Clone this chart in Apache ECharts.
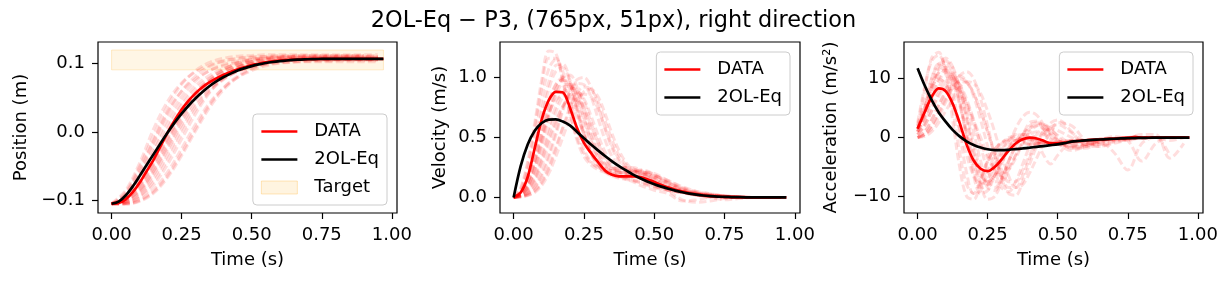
<!DOCTYPE html>
<html><head><meta charset="utf-8">
<script src="https://cdn.jsdelivr.net/npm/echarts@6/dist/echarts.min.js"></script>
<style>html,body{margin:0;padding:0;background:#fff}#c{width:1227px;height:286px}</style>
</head><body><div id="c"></div>
<script>
// ---------- data ----------
const tMain = [0,0.025,0.05,0.075,0.1,0.125,0.15,0.175,0.2,0.225,0.25,0.275,0.3,0.325,0.35,0.375,0.4,0.425,0.45,0.475,0.5,0.525,0.55,0.575,0.6,0.625,0.65,0.675,0.7,0.725,0.75,0.775,0.8,0.825,0.85,0.875,0.9,0.925,0.95,0.97];

const posData = [-0.1045,-0.1035,-0.098,-0.088,-0.074,-0.057,-0.040,-0.020,-0.0005,0.017,0.033,0.046,0.057,0.066,0.073,0.079,0.084,0.088,0.092,0.095,0.098,0.100,0.102,0.1035,0.1045,0.1053,0.106,0.1064,0.1067,0.1069,0.107,0.1071,0.1072,0.1072,0.1072,0.1072,0.1072,0.1072,0.1072,0.1072];
const posModel = [-0.1045,-0.1015,-0.0925,-0.0795,-0.064,-0.048,-0.032,-0.016,-0.0005,0.014,0.027,0.039,0.0495,0.059,0.0675,0.0745,0.0805,0.0855,0.090,0.0935,0.0965,0.099,0.101,0.1025,0.1037,0.1047,0.1055,0.1061,0.1065,0.1068,0.107,0.1071,0.1072,0.1072,0.1072,0.1072,0.1072,0.1072,0.1072,0.1072];

const velData = [0,0.04,0.17,0.41,0.65,0.81,0.88,0.875,0.75,0.58,0.455,0.37,0.295,0.225,0.188,0.176,0.175,0.175,0.17,0.152,0.128,0.104,0.083,0.064,0.048,0.035,0.025,0.017,0.011,0.007,0.005,0.003,0.002,0.001,0.001,0,0,0,0,0];
const velModel = [0,0.26,0.44,0.555,0.62,0.648,0.65,0.632,0.60,0.548,0.493,0.44,0.392,0.345,0.30,0.26,0.225,0.19,0.16,0.133,0.11,0.09,0.072,0.056,0.043,0.032,0.023,0.016,0.011,0.007,0.005,0.003,0.002,0.001,0.001,0,0,0,0,0];

const accData = [1.5,4.3,6.9,8.35,7.9,5.8,2.5,-1.2,-3.9,-5.3,-5.7,-5.0,-3.7,-2.2,-1.0,-0.3,0.0,-0.15,-0.55,-1.0,-1.0,-0.85,-0.7,-0.58,-0.48,-0.4,-0.33,-0.26,-0.2,-0.15,-0.1,0.1,-0.05,-0.03,-0.02,-0.01,0.05,0,0.05,0];
const accModel = [11.8,8.9,6.4,4.3,2.7,1.3,0.2,-0.65,-1.25,-1.7,-1.98,-2.12,-2.15,-2.08,-1.97,-1.85,-1.72,-1.58,-1.44,-1.3,-1.15,-0.95,-0.7,-0.58,-0.48,-0.4,-0.33,-0.26,-0.2,-0.15,-0.11,-0.08,-0.05,-0.03,-0.02,-0.01,0,0,0,0];

const tTrialPos = [0,0.05,0.1,0.15,0.2,0.25,0.3,0.35,0.4,0.45,0.5,0.55,0.6,0.65,0.7,0.75,0.8,0.85,0.9,0.95];
const posTrials = [
 [-0.104,-0.085,-0.045,0.005,0.045,0.072,0.088,0.098,0.104,0.107,0.109,0.110,0.110,0.110,0.110,0.110,0.110,0.110,0.110,0.110],
 [-0.105,-0.092,-0.058,-0.015,0.028,0.060,0.082,0.096,0.104,0.108,0.110,0.111,0.112,0.112,0.112,0.112,0.112,0.112,0.112,0.112],
 [-0.105,-0.095,-0.066,-0.028,0.012,0.045,0.068,0.083,0.093,0.099,0.103,0.106,0.107,0.108,0.108,0.108,0.108,0.108],
 [-0.104,-0.099,-0.076,-0.042,-0.002,0.032,0.058,0.075,0.087,0.095,0.100,0.103,0.105,0.106,0.106,0.106,0.106,0.106,0.106,0.106],
 [-0.105,-0.101,-0.083,-0.052,-0.014,0.024,0.054,0.074,0.088,0.097,0.103,0.106,0.108,0.109,0.109,0.109,0.109,0.109,0.109,0.109],
 [-0.104,-0.102,-0.089,-0.062,-0.026,0.011,0.042,0.064,0.079,0.089,0.096,0.100,0.102,0.103,0.104,0.104,0.104],
 [-0.105,-0.104,-0.094,-0.072,-0.040,-0.002,0.033,0.059,0.077,0.089,0.097,0.102,0.105,0.106,0.107,0.107,0.107,0.107,0.107,0.107],
 [-0.104,-0.104,-0.099,-0.084,-0.058,-0.024,0.012,0.043,0.065,0.080,0.090,0.097,0.101,0.103,0.104,0.105,0.105,0.105,0.105,0.105],
 [-0.105,-0.105,-0.100,-0.087,-0.063,-0.030,0.006,0.040,0.065,0.082,0.094,0.101,0.105,0.108,0.109,0.110,0.110,0.110,0.110,0.110],
 [-0.105,-0.088,-0.050,-0.005,0.038,0.070,0.090,0.102,0.108,0.111,0.112,0.113,0.113,0.113,0.113,0.113,0.113,0.113,0.113,0.113],
 [-0.104,-0.100,-0.085,-0.056,-0.018,0.020,0.052,0.075,0.091,0.101,0.106,0.109,0.110,0.111,0.111,0.111,0.111,0.111,0.111],
 [-0.104,-0.098,-0.078,-0.046,-0.008,0.027,0.053,0.070,0.082,0.090,0.095,0.099,0.101,0.102,0.103,0.103,0.103,0.103,0.103,0.103],
 [-0.105,-0.094,-0.062,-0.022,0.020,0.052,0.075,0.090,0.099,0.104,0.107,0.108,0.109,0.109,0.109,0.109,0.109,0.109,0.109,0.109],
 [-0.104,-0.103,-0.092,-0.067,-0.033,0.005,0.038,0.062,0.078,0.089,0.097,0.101,0.104,0.105,0.106,0.106,0.106,0.106,0.106,0.106],
 [-0.105,-0.104,-0.096,-0.077,-0.047,-0.010,0.027,0.058,0.080,0.094,0.103,0.108,0.110,0.111,0.112,0.112,0.112,0.112,0.112],
 [-0.104,-0.097,-0.071,-0.035,0.005,0.039,0.063,0.079,0.090,0.097,0.101,0.103,0.104,0.105,0.105,0.105,0.105,0.105,0.105,0.105],
 [-0.105,-0.105,-0.101,-0.089,-0.066,-0.034,0.002,0.036,0.062,0.080,0.092,0.100,0.104,0.106,0.107,0.108,0.108,0.108,0.108,0.108],
 [-0.104,-0.100,-0.080,-0.048,-0.010,0.027,0.057,0.078,0.092,0.101,0.106,0.108,0.109,0.110,0.110,0.110,0.110,0.110,0.110,0.110],
 [-0.105,-0.090,-0.054,-0.012,0.030,0.060,0.078,0.090,0.097,0.102,0.105,0.107,0.108,0.108,0.108,0.108,0.108,0.108,0.108,0.108],
 [-0.104,-0.102,-0.087,-0.058,-0.022,0.016,0.048,0.070,0.085,0.095,0.101,0.104,0.106,0.107,0.107,0.107,0.107,0.107,0.107,0.107]
];

const tTrialFine = [0,0.025,0.05,0.075,0.1,0.125,0.15,0.175,0.2,0.225,0.25,0.275,0.3,0.325,0.35,0.375,0.4,0.425,0.45,0.475,0.5,0.55,0.6,0.65,0.7,0.75,0.8,0.85,0.9,0.95];
const velTrials = [
 [0,0.08,0.30,0.62,0.98,1.22,1.20,0.98,0.70,0.48,0.34,0.27,0.23,0.21,0.19,0.18,0.17,0.15,0.13,0.11,0.09,0.06,0.04,0.02,0.01,0.005,0,0,0,0],
 [0,0.05,0.22,0.50,0.82,1.07,1.15,1.05,0.82,0.58,0.40,0.30,0.25,0.22,0.20,0.18,0.15,0.13,0.10,0.08,0.06,0.03,-0.03,-0.02,0,0,0,0,0,0],
 [0,0.04,0.16,0.38,0.66,0.90,1.05,1.08,0.96,0.74,0.52,0.36,0.27,0.22,0.20,0.19,0.19,0.18,0.16,0.13,0.10,0.06,0.04,0.02,0.01,0.005,0,0],
 [0,0.03,0.12,0.30,0.55,0.78,0.94,1.00,0.94,0.78,0.58,0.42,0.31,0.25,0.22,0.21,0.20,0.18,0.16,0.14,0.12,0.08,0.05,0.03,0.015,0.01,0.005,0,0,0],
 [0,0.02,0.09,0.24,0.46,0.68,0.85,0.94,0.94,0.84,0.66,0.48,0.34,0.26,0.22,0.21,0.22,0.22,0.20,0.17,0.14,0.09,0.05,0.03,0.02,0.01,0.005,0,0,0],
 [0,0.02,0.07,0.18,0.36,0.58,0.76,0.88,0.92,0.88,0.74,0.56,0.40,0.30,0.24,0.22,0.22,0.23,0.22,0.20,0.17,0.11,0.06,0.03,0.02,0.01,0.005],
 [0,0.01,0.05,0.14,0.30,0.48,0.64,0.76,0.82,0.82,0.74,0.60,0.46,0.34,0.26,0.22,0.20,0.19,0.19,0.18,0.16,0.06,-0.02,-0.04,-0.03,-0.01,0,0,0,0],
 [0,0.01,0.03,0.09,0.20,0.36,0.55,0.74,0.88,0.95,0.94,0.84,0.66,0.48,0.34,0.26,0.22,0.21,0.21,0.20,0.18,0.12,0.07,0.04,0.02,0.01,0.005,0,0,0],
 [0,0.005,0.02,0.06,0.14,0.26,0.42,0.58,0.72,0.82,0.86,0.84,0.74,0.58,0.43,0.32,0.25,0.22,0.20,0.19,0.17,0.12,0.08,0.05,0.03,0.015,0.005,0,0,0],
 [0,0.005,0.02,0.05,0.12,0.24,0.40,0.58,0.75,0.87,0.92,0.90,0.80,0.64,0.48,0.35,0.27,0.22,0.19,0.17,0.15,0.10,0.06,0.04,0.02,0.01,0.005,0,0,0],
 [0,0.02,0.08,0.22,0.44,0.68,0.88,1.00,1.02,0.92,0.72,0.52,0.37,0.28,0.24,0.24,0.25,0.24,0.21,0.17,0.13,0.08,0.05,0.03,0.015,0.01,0.005,0,0],
 [0,0.03,0.12,0.30,0.52,0.70,0.81,0.85,0.80,0.68,0.52,0.38,0.28,0.22,0.18,0.16,0.15,0.14,0.13,0.11,0.09,0.06,0.04,0.02,0.01,0.005,0,0,0,0],
 [0,0.04,0.18,0.42,0.72,0.96,1.10,1.11,0.98,0.76,0.54,0.38,0.29,0.24,0.22,0.21,0.20,0.19,0.17,0.14,0.11,0.07,0.04,0.02,0.01,0.005,0,0,0,0],
 [0,0.01,0.04,0.12,0.26,0.44,0.62,0.76,0.85,0.88,0.82,0.68,0.52,0.38,0.29,0.24,0.22,0.22,0.23,0.22,0.19,0.12,0.06,0.02,0,-0.02,-0.01,0,0,0],
 [0,0.005,0.03,0.08,0.18,0.33,0.52,0.72,0.88,0.98,1.00,0.92,0.76,0.57,0.41,0.30,0.24,0.22,0.21,0.21,0.20,0.14,0.08,0.04,0.02,0.01,0,0,0,0],
 [0,0.03,0.13,0.32,0.58,0.80,0.94,0.98,0.90,0.72,0.52,0.37,0.27,0.21,0.18,0.17,0.17,0.17,0.16,0.14,0.12,0.08,0.05,0.03,0.02,0.01,0,0,0,0],
 [0,0.005,0.015,0.04,0.10,0.20,0.34,0.50,0.66,0.79,0.88,0.90,0.84,0.70,0.53,0.39,0.29,0.23,0.20,0.19,0.18,0.14,0.09,0.05,0.03,0.01,0,0,0,0],
 [0,0.02,0.09,0.25,0.48,0.72,0.90,0.98,0.96,0.85,0.66,0.47,0.34,0.27,0.24,0.24,0.25,0.25,0.23,0.19,0.15,0.09,0.05,0.02,0.01,0,0,0,0,0],
 [0,0.07,0.27,0.58,0.92,1.16,1.16,0.96,0.70,0.50,0.37,0.29,0.25,0.22,0.20,0.18,0.16,0.14,0.12,0.10,0.08,0.06,0.04,0.03,0.02,0.01,0,0,0,0],
 [0,0.015,0.06,0.16,0.33,0.53,0.71,0.84,0.91,0.90,0.80,0.63,0.46,0.33,0.25,0.21,0.20,0.21,0.22,0.21,0.19,0.13,0.07,0.03,0.01,0,0,0,0,0]
];
const accTrials = [
 [2,8,13.5,14.5,11,3,-5,-10,-10.5,-7.5,-4,-2,-1,-0.5,-0.5,-0.8,-1.0,-1.0,-0.9,-0.8,-0.8,-0.5,-0.4,-0.3,-0.1,0,0,0,0,0],
 [1,5,10,12.5,12,8,1,-6,-9.5,-9,-6,-3,-1,0,0.2,-0.5,-1.2,-1.1,-0.8,-0.9,-0.7,-0.5,-0.6,-0.3,-0.2,0,0,0,0,0],
 [1.5,4,8,11,12,10.5,6,0,-5.5,-8.5,-8,-5.5,-2.5,-0.5,0.5,0.2,-0.3,-0.4,-0.8,-1.1,-1.0,-0.6,-0.5,-0.3,-0.2,-0.1,0,0],
 [1,3,6.5,9.5,11,10.5,8,3.5,-2,-6,-7.5,-6.5,-4.2,-2,-0.5,0.5,0.5,-0.2,-0.6,-0.9,-0.9,-0.9,-0.5,-0.3,-0.2,-0.1,0,0,-0.5,0],
 [0.5,2.5,5.5,8.5,10.2,10.4,9,5.5,1,-4,-7.5,-8.5,-7,-4,-1.5,0.5,2.5,2.8,1.2,-0.8,-1.2,-1.4,-0.8,-0.4,-0.2,0,0,0,0,0],
 [0.5,2,4.5,7,8.5,8.7,7.6,5.5,2.5,-1,-3.5,-5.5,-6,-5,-3,-1,0.5,1.0,0.6,-0.3,-0.8,-1.4,-1.2,-0.6,-0.3,-0.2,0],
 [0,1,3,5.5,8,9.8,10.5,9.5,7,3,-1.5,-5.5,-8.5,-9.2,-7.5,-4.5,-1.5,0.5,1.5,1.2,0.4,-1.0,-1.2,-0.8,-0.4,-0.2,0,0,0,0],
 [0,0.5,2,4,6.5,8.5,9.5,9.3,7.5,4.5,1,-2.5,-5.5,-7.5,-7.5,-5.5,-3,-0.5,1.0,1.5,1.2,0,-1.0,-1.0,-0.5,-0.2,0,0,0,0],
 [0,0.5,1.5,3.5,6,8.5,10.5,11.2,10,6.5,2,-3,-7,-9.5,-9.8,-7.5,-4.5,-1.5,0.5,1.8,2.2,0.8,-0.8,-1.2,-0.8,-0.3,0,0,0,0],
 [2,6,10,12.5,12.8,10.5,6,1,-3.5,-6.5,-7.5,-6.5,-4.5,-1.5,1.5,3.5,4.3,3.8,2.2,0.5,-0.5,-1.6,-1.2,-0.5,-0.2,0,0.5,0.5,-3.5,-1],
 [1,4.5,8.5,11.5,13,12,8.5,3,-3,-8,-10.5,-10,-7.5,-4,-1.5,0.5,2.0,2.5,2.0,0.8,-0.4,-1.8,-1.8,-0.8,-2.5,-5.5,-1,0,-3],
 [1.5,5,8.5,10,9,6,1.5,-3,-6.5,-8,-7,-4.5,-2,-0.5,0.3,0.5,0,-0.5,-3,-4.5,-3,-0.7,-0.5,-0.3,-0.2,0,0,0,0,0],
 [1,4,8.5,12,13.5,12,7,0,-6.5,-9.5,-9,-6.5,-3.5,-1.5,-0.5,-0.3,-0.5,-0.8,-1.0,-1.2,-1.0,-0.8,-0.6,-0.4,-0.2,0,0,0,0,0],
 [0,1,3,5.5,7.5,8.5,8,6,3,0,-3,-5.5,-6.5,-5.5,-3.5,-1,1,2,2.2,1.5,0.2,-1.8,-1.6,-0.8,-0.3,-0.5,0,0,0,0],
 [0,0.5,2,4.5,7,9,10,9.5,7.5,4.5,1,-3,-6.5,-8.5,-8.5,-6.5,-3.5,-1,1,2.5,3,1,-1.5,-1.5,-0.6,-0.2,0,0,0,0],
 [1.5,5,9,11,11.5,9.5,5.5,0.5,-4.5,-7.5,-8,-6.5,-4,-1.8,-0.5,0,-0.3,-0.6,-0.9,-1.2,-1.2,-0.9,-0.6,-0.3,-0.2,0,0,0,0,0],
 [0,0.2,1,2.5,4.5,6.5,8.5,9.5,9.2,7.5,4.5,1,-3,-6.5,-8.5,-8,-6,-3.5,-1,1,2.5,2,-0.5,-1.5,-1.0,-0.4,0,0,0,0],
 [1,3.5,7,10,11.5,11,8.5,4,-1,-5.5,-8.5,-9,-7,-4,-1.5,0.5,1.5,2,1.5,0.2,-1.0,-2.2,-1.5,-0.5,0.2,-0.5,-4,-1,0,0],
 [2.5,8.5,13,14,11.5,5,-2.5,-8,-9.5,-7,-4,-2,-0.8,-0.3,-0.5,-0.9,-1.2,-1.1,-0.9,-0.8,-0.7,-0.5,-0.4,-0.3,-0.2,0,0,0,0,0],
 [0.5,2,4.5,7.5,9.5,10,9,6.5,3,-1.5,-5.5,-7.5,-7.5,-5.5,-3,-0.5,1.5,2.5,2.2,1,-0.3,-1.6,-1.4,-0.6,-0.2,0,0,0,0,0]
];

const targetBand = [[0, 0.091, 0.97, 0.120]]; // x0, y0, x1, y1
const xTicks = [0, 0.25, 0.5, 0.75, 1.0];
const yTicksPos = [-0.1, 0, 0.1];
const yTicksVel = [0, 0.5, 1.0];
const yTicksAcc = [-10, 0, 10];
const titleText = '2OL-Eq \u2212 P3, (765px, 51px), right direction';

// ---------- chart ----------
const FONT = 'DejaVu Sans';
const FS = 18;
const minus = s => s.replace('-', '\u2212');
const zip = (t, v) => v.map((y, i) => [t[i], y]);

const panels = [
  {left: 98, width: 299, yMin: -0.118, yMax: 0.1317, ticks: yTicksPos, name: 'Position (m)', gap: 68,
   fmt: v => minus(v.toFixed(1)), trialT: tTrialPos, trials: posTrials, data: posData, model: posModel},
  {left: 500, width: 300, yMin: -0.13, yMax: 1.295, ticks: yTicksVel, name: 'Velocity (m/s)', gap: 51,
   fmt: v => v.toFixed(1), trialT: tTrialFine, trials: velTrials, data: velData, model: velModel},
  {left: 904, width: 299, yMin: -12.82, yMax: 16.24, ticks: yTicksAcc, name: 'Acceleration (m/s\u00b2)', gap: 64,
   fmt: v => minus(String(Math.round(v))), trialT: tTrialFine, trials: accTrials, data: accData, model: accModel}
];

const grid = [], xAxis = [], yAxis = [], series = [];
const tickStyle = {show: true, inside: false, length: 6, lineStyle: {color: '#000', width: 1.2}};
panels.forEach((p, k) => {
  grid.push({left: p.left, top: 42, width: p.width, height: 171, show: true,
    borderColor: '#000', borderWidth: 1.2, backgroundColor: 'transparent', containLabel: false});
  xAxis.push({type: 'value', gridIndex: k, min: -0.0485, max: 1.0185,
    axisLine: {show: false, onZero: false}, splitLine: {show: false},
    axisTick: Object.assign({customValues: xTicks}, tickStyle),
    axisLabel: {customValues: xTicks, formatter: v => v.toFixed(2), margin: 13,
      fontFamily: FONT, fontSize: FS, color: '#000'},
    name: 'Time (s)', nameLocation: 'middle', nameGap: 38,
    nameTextStyle: {fontFamily: FONT, fontSize: FS, color: '#000'}});
  yAxis.push({type: 'value', gridIndex: k, min: p.yMin, max: p.yMax,
    axisLine: {show: false, onZero: false}, splitLine: {show: false},
    axisTick: Object.assign({customValues: p.ticks}, tickStyle),
    axisLabel: {customValues: p.ticks, formatter: p.fmt, margin: 13,
      fontFamily: FONT, fontSize: FS, color: '#000'},
    name: p.name, nameLocation: 'middle', nameGap: p.gap,
    nameTextStyle: {fontFamily: FONT, fontSize: FS, color: '#000'}});
  p.trials.forEach((tr) => {
    series.push({type: 'line', name: '_trial', xAxisIndex: k, yAxisIndex: k,
      data: zip(p.trialT, tr), symbol: 'none', smooth: 0.35, silent: true, z: 2,
      lineStyle: {color: '#ff0000', width: 3, type: [7.5, 3.2], opacity: 0.13}});
  });
  series.push({type: 'line', name: 'DATA', xAxisIndex: k, yAxisIndex: k,
    data: zip(tMain, p.data), symbol: 'none', smooth: 0.3, silent: true, z: 3,
    lineStyle: {color: '#ff0000', width: 2.7}, itemStyle: {color: '#ff0000'}});
  series.push({type: 'line', name: '2OL-Eq', xAxisIndex: k, yAxisIndex: k,
    data: zip(tMain, p.model), symbol: 'none', smooth: 0.3, silent: true, z: 4,
    lineStyle: {color: '#000000', width: 2.7}, itemStyle: {color: '#000000'}});
});

series.push({type: 'custom', name: 'Target', xAxisIndex: 0, yAxisIndex: 0, z: 1, silent: true,
  data: targetBand, encode: {x: [0, 2], y: [1, 3]},
  itemStyle: {color: 'rgba(255,165,0,0.12)'},
  renderItem: (params, api) => {
    const a = api.coord([api.value(0), api.value(3)]);
    const b = api.coord([api.value(2), api.value(1)]);
    return {type: 'rect', shape: {x: a[0], y: a[1], width: b[0] - a[0], height: b[1] - a[1]},
      style: {fill: 'rgba(255,165,0,0.1)', stroke: 'rgba(255,165,0,0.2)', lineWidth: 1}};
  }});

const LINE_ICON = 'path://M0,0H36V2.7H0Z';
const legendBase = {orient: 'vertical', selectedMode: false, itemWidth: 36, itemHeight: 13, itemGap: 7,
  symbolKeepAspect: true,
  backgroundColor: 'rgba(255,255,255,0.8)', borderColor: '#cccccc', borderWidth: 1, borderRadius: 4,
  padding: [7, 8, 7, 8],
  textStyle: {fontFamily: FONT, fontSize: FS, color: '#000', lineHeight: 21, padding: [0, 0, 0, 12]}};
const lineItems = [
  {name: 'DATA', icon: LINE_ICON, itemStyle: {color: '#ff0000'}},
  {name: '2OL-Eq', icon: LINE_ICON, itemStyle: {color: '#000000'}}
];
const legend = [
  Object.assign({}, legendBase, {top: 114, right: 840, data: lineItems.concat([
    {name: 'Target', icon: 'rect', itemStyle: {color: 'rgba(255,165,0,0.12)', borderColor: 'rgba(255,165,0,0.25)', borderWidth: 1}}])}),
  Object.assign({}, legendBase, {top: 52, right: 437, data: lineItems}),
  Object.assign({}, legendBase, {top: 52, right: 34, data: lineItems})
];

const chart = echarts.init(document.getElementById('c'), null, {renderer: 'canvas'});
chart.setOption({
  animation: false,
  backgroundColor: '#ffffff',
  title: {text: titleText, left: 'center', top: 5,
    textStyle: {fontFamily: FONT, fontSize: 22.4, fontWeight: 'normal', color: '#000'}},
  grid, xAxis, yAxis, legend, series
});
</script></body></html>
